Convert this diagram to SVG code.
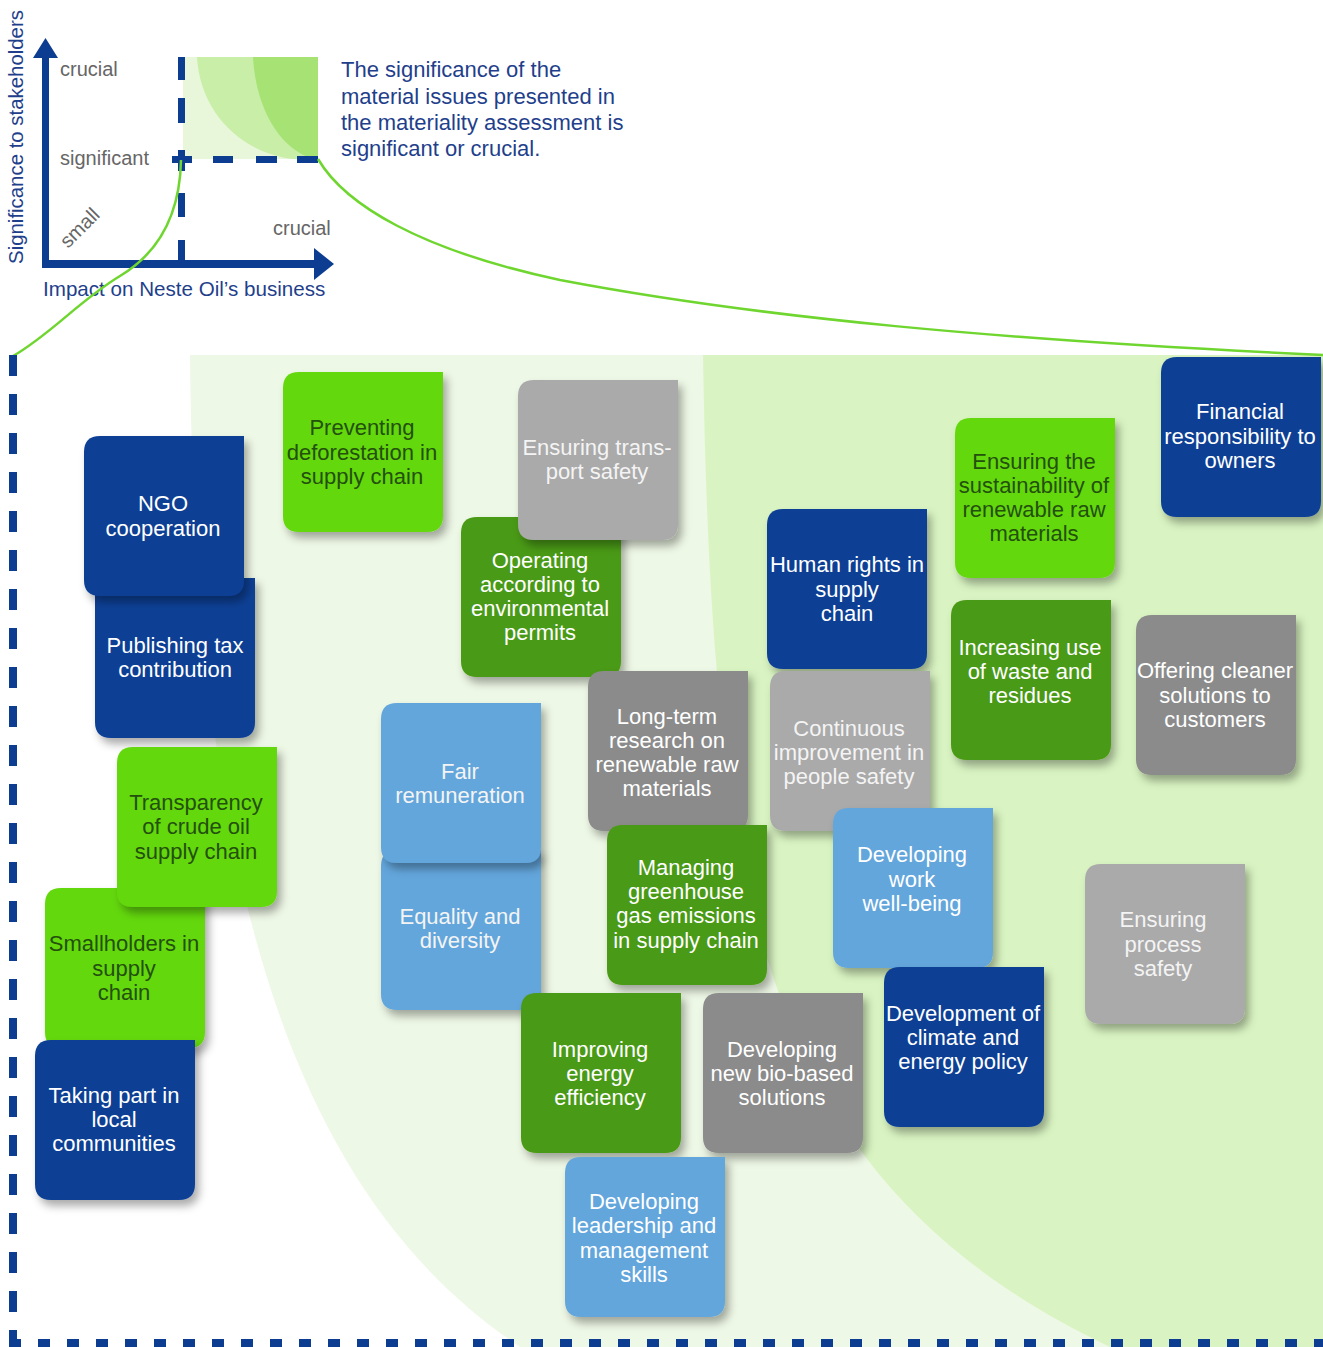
<svg xmlns="http://www.w3.org/2000/svg" xmlns:xlink="http://www.w3.org/1999/xlink" width="1323" height="1347" viewBox="0 0 1323 1347">
<defs>
<style>
text{font-family:"Liberation Sans",Arial,sans-serif}
.tt{font-size:22px;text-anchor:middle}
.w{fill:#ffffff}
.wg{fill:#f4f4f4}
.dg{fill:#23500c}
.blue{fill:#0c3f95}
.bg{fill:#64d80a}
.dkg{fill:#4a9a12}
.lg{fill:#aaaaaa}
.mg{fill:#8b8b8b}
.lb{fill:#63a6dc}
.ax{fill:#0c3d91}
.lbl{font-size:20px;fill:#666666}
.nav{fill:#1f3f8c}
.curve{fill:none;stroke:#6fd630;stroke-width:2.5}
</style>
<path id="tile" d="M16,0 H160 V144 Q160,160 144,160 H16 Q0,160 0,144 V16 Q0,0 16,0 Z"/>
<filter id="sh" x="-10%" y="-10%" width="130%" height="130%">
<feDropShadow dx="4" dy="6" stdDeviation="4" flood-color="#000" flood-opacity="0.33"/>
</filter>
</defs>
<rect width="1323" height="1347" fill="#ffffff"/>
<g id="background">
<path d="M190,355 H1323 V1347 H520 C300,1200 195,900 190,355 Z" fill="#eef8e6"/>
<path d="M703,355 H1323 V1347 H1110 C760,1180 712,900 703,355 Z" fill="#d9f4c2"/>
</g>
<g id="small-chart">
<rect x="183" y="57" width="135" height="102" fill="#e8f7da"/>
<path d="M197,57 C200,112 240,152 292,159 L318,159 L318,57 Z" fill="#c9eea8"/>
<path d="M253,57 C256,112 282,150 313,159 L318,159 L318,57 Z" fill="#a7e275"/>
<rect x="42" y="52" width="7" height="216" class="ax"/>
<polygon points="33,58 45.5,38 58,58" class="ax"/>
<rect x="42" y="260" width="276" height="8" class="ax"/>
<polygon points="314,248 334,264 314,280" class="ax"/>
<rect x="178" y="57" width="7" height="23" class="ax"/>
<rect x="178" y="98" width="7" height="25" class="ax"/>
<rect x="178" y="150" width="7" height="21" class="ax"/>
<rect x="178" y="193" width="7" height="24" class="ax"/>
<rect x="178" y="240" width="7" height="22" class="ax"/>
<rect x="172" y="156" width="20" height="7" class="ax"/>
<rect x="213" y="156" width="20" height="7" class="ax"/>
<rect x="256" y="156" width="21" height="7" class="ax"/>
<rect x="297" y="156" width="21" height="7" class="ax"/>
<text x="60" y="76" class="lbl">crucial</text>
<text x="60" y="165" class="lbl">significant</text>
<text x="68" y="249" class="lbl" font-size="18" transform="rotate(-45 68 249)">small</text>
<text x="273" y="235" class="lbl">crucial</text>
<text x="43" y="296" font-size="20.6" class="nav">Impact on Neste Oil’s business</text>
<text transform="translate(23,137) rotate(-90)" font-size="20.4" text-anchor="middle" class="nav">Significance to stakeholders</text>
<text x="341" font-size="22" class="nav"><tspan x="341" y="77">The significance of the</tspan><tspan x="341" y="104">material issues presented in</tspan><tspan x="341" y="130">the materiality assessment is</tspan><tspan x="341" y="156">significant or crucial.</tspan></text>
</g>
<g id="connectors">
<path class="curve" d="M181,160 C180,212 160,252 120,276 C80,300 50,335 13,356"/>
<path class="curve" d="M318,159 C345,205 420,250 560,280 C760,318 1000,340 1323,355"/>
<line x1="13" y1="355" x2="13" y2="1340" stroke="#0c3d91" stroke-width="8" stroke-dasharray="21 18"/>
<line x1="9" y1="1343" x2="1323" y2="1343" stroke="#0c3d91" stroke-width="8" stroke-dasharray="12 17"/>
</g>
<g id="n-publishing" transform="translate(95,578)"><use href="#tile" class="blue" filter="url(#sh)"/><text class="tt w"><tspan x="80" y="75">Publishing tax</tspan><tspan x="80" y="99">contribution</tspan></text></g>
<g id="n-ngo" transform="translate(84,436)"><use href="#tile" class="blue" filter="url(#sh)"/><text class="tt w"><tspan x="79" y="75">NGO</tspan><tspan x="79" y="100">cooperation</tspan></text></g>
<g id="n-preventing" transform="translate(283,372)"><use href="#tile" class="bg" filter="url(#sh)"/><text class="tt dg"><tspan x="79" y="63">Preventing</tspan><tspan x="79" y="88">deforestation in</tspan><tspan x="79" y="112">supply chain</tspan></text></g>
<g id="n-operating" transform="translate(461,517)"><use href="#tile" class="dkg" filter="url(#sh)"/><text class="tt w"><tspan x="79" y="51">Operating</tspan><tspan x="79" y="75">according to</tspan><tspan x="79" y="99">environmental</tspan><tspan x="79" y="123">permits</tspan></text></g>
<g id="n-transport" transform="translate(518,380)"><use href="#tile" class="lg" filter="url(#sh)"/><text class="tt wg"><tspan x="79" y="75">Ensuring trans-</tspan><tspan x="79" y="99">port safety</tspan></text></g>
<g id="n-human" transform="translate(767,509)"><use href="#tile" class="blue" filter="url(#sh)"/><text class="tt w"><tspan x="80" y="63">Human rights in</tspan><tspan x="80" y="88">supply</tspan><tspan x="80" y="112">chain</tspan></text></g>
<g id="n-sustain" transform="translate(955,418)"><use href="#tile" class="bg" filter="url(#sh)"/><text class="tt dg"><tspan x="79" y="51">Ensuring the</tspan><tspan x="79" y="75">sustainability of</tspan><tspan x="79" y="99">renewable raw</tspan><tspan x="79" y="123">materials</tspan></text></g>
<g id="n-financial" transform="translate(1161,357)"><use href="#tile" class="blue" filter="url(#sh)"/><text class="tt w"><tspan x="79" y="62">Financial</tspan><tspan x="79" y="87">responsibility to</tspan><tspan x="79" y="111">owners</tspan></text></g>
<g id="n-waste" transform="translate(951,600)"><use href="#tile" class="dkg" filter="url(#sh)"/><text class="tt w"><tspan x="79" y="55">Increasing use</tspan><tspan x="79" y="79">of waste and</tspan><tspan x="79" y="103">residues</tspan></text></g>
<g id="n-offering" transform="translate(1136,615)"><use href="#tile" class="mg" filter="url(#sh)"/><text class="tt w"><tspan x="79" y="63">Offering cleaner</tspan><tspan x="79" y="88">solutions to</tspan><tspan x="79" y="112">customers</tspan></text></g>
<g id="n-longterm" transform="translate(588,671)"><use href="#tile" class="mg" filter="url(#sh)"/><text class="tt w"><tspan x="79" y="53">Long-term</tspan><tspan x="79" y="77">research on</tspan><tspan x="79" y="101">renewable raw</tspan><tspan x="79" y="125">materials</tspan></text></g>
<g id="n-continuous" transform="translate(770,671)"><use href="#tile" class="lg" filter="url(#sh)"/><text class="tt wg"><tspan x="79" y="65">Continuous</tspan><tspan x="79" y="89">improvement in</tspan><tspan x="79" y="113">people safety</tspan></text></g>
<g id="n-equality" transform="translate(381,850)"><use href="#tile" class="lb" filter="url(#sh)"/><text class="tt wg"><tspan x="79" y="74">Equality and</tspan><tspan x="79" y="98">diversity</tspan></text></g>
<g id="n-fair" transform="translate(381,703)"><use href="#tile" class="lb" filter="url(#sh)"/><text class="tt wg"><tspan x="79" y="76">Fair</tspan><tspan x="79" y="100">remuneration</tspan></text></g>
<g id="n-managing" transform="translate(607,825)"><use href="#tile" class="dkg" filter="url(#sh)"/><text class="tt w"><tspan x="79" y="50">Managing</tspan><tspan x="79" y="74">greenhouse</tspan><tspan x="79" y="98">gas emissions</tspan><tspan x="79" y="123">in supply chain</tspan></text></g>
<g id="n-wellbeing" transform="translate(833,808)"><use href="#tile" class="lb" filter="url(#sh)"/><text class="tt w"><tspan x="79" y="54">Developing</tspan><tspan x="79" y="79">work</tspan><tspan x="79" y="103">well-being</tspan></text></g>
<g id="n-smallholders" transform="translate(45,888)"><use href="#tile" class="bg" filter="url(#sh)"/><text class="tt dg"><tspan x="79" y="63">Smallholders in</tspan><tspan x="79" y="88">supply</tspan><tspan x="79" y="112">chain</tspan></text></g>
<g id="n-transparency" transform="translate(117,747)"><use href="#tile" class="bg" filter="url(#sh)"/><text class="tt dg"><tspan x="79" y="63">Transparency</tspan><tspan x="79" y="87">of crude oil</tspan><tspan x="79" y="112">supply chain</tspan></text></g>
<g id="n-local" transform="translate(35,1040)"><use href="#tile" class="blue" filter="url(#sh)"/><text class="tt w"><tspan x="79" y="63">Taking part in</tspan><tspan x="79" y="87">local</tspan><tspan x="79" y="111">communities</tspan></text></g>
<g id="n-process" transform="translate(1085,864)"><use href="#tile" class="lg" filter="url(#sh)"/><text class="tt wg"><tspan x="78" y="63">Ensuring</tspan><tspan x="78" y="88">process</tspan><tspan x="78" y="112">safety</tspan></text></g>
<g id="n-climate" transform="translate(884,967)"><use href="#tile" class="blue" filter="url(#sh)"/><text class="tt w"><tspan x="79" y="54">Development of</tspan><tspan x="79" y="78">climate and</tspan><tspan x="79" y="102">energy policy</tspan></text></g>
<g id="n-energy" transform="translate(521,993)"><use href="#tile" class="dkg" filter="url(#sh)"/><text class="tt w"><tspan x="79" y="64">Improving</tspan><tspan x="79" y="88">energy</tspan><tspan x="79" y="112">efficiency</tspan></text></g>
<g id="n-biobased" transform="translate(703,993)"><use href="#tile" class="mg" filter="url(#sh)"/><text class="tt w"><tspan x="79" y="64">Developing</tspan><tspan x="79" y="88">new bio-based</tspan><tspan x="79" y="112">solutions</tspan></text></g>
<g id="n-leadership" transform="translate(565,1157)"><use href="#tile" class="lb" filter="url(#sh)"/><text class="tt w"><tspan x="79" y="52">Developing</tspan><tspan x="79" y="76">leadership and</tspan><tspan x="79" y="101">management</tspan><tspan x="79" y="125">skills</tspan></text></g>
</svg>
